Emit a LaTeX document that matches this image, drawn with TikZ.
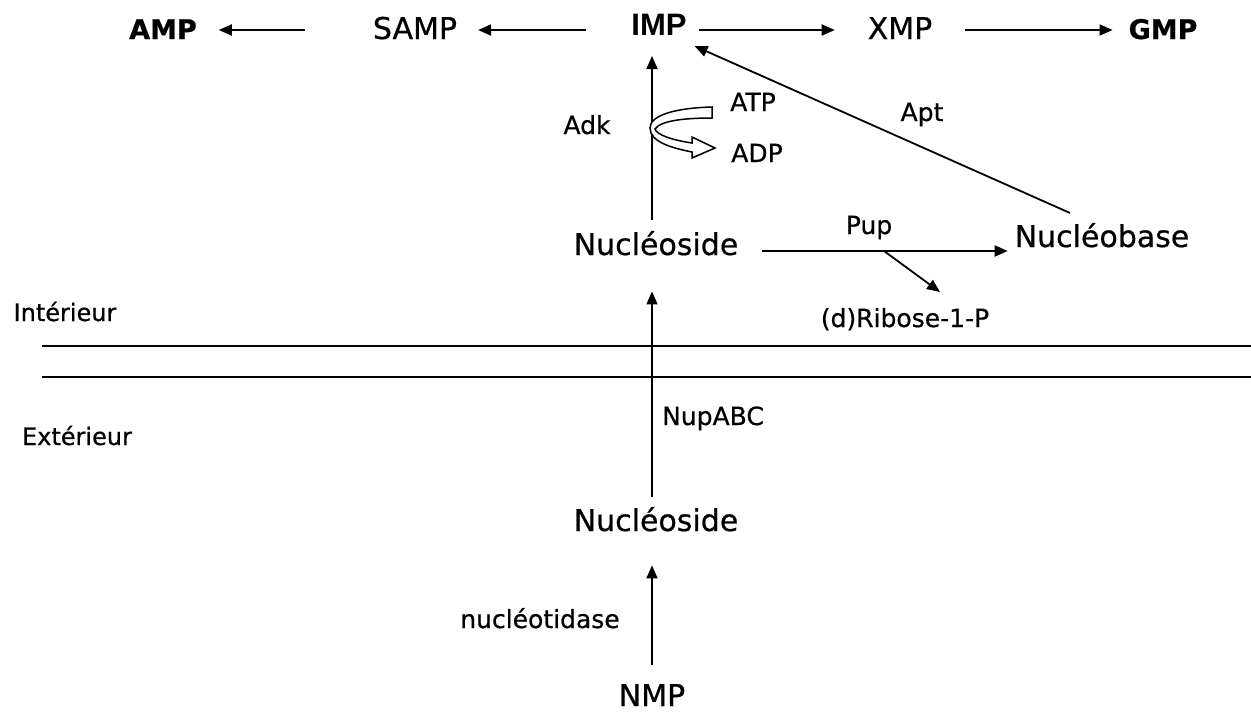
\documentclass[tikz,border=0pt]{standalone}
\usepackage{fontspec}
\setmainfont{DejaVu Sans}[FakeBold=0.6]
\newfontfamily\impfont{Liberation Sans}
\usetikzlibrary{arrows.meta}
\begin{document}
\begin{tikzpicture}[x=1pt,y=-1pt,
  txt/.style={anchor=base,inner sep=0pt,outer sep=0pt},
  big/.style={txt,font=\fontsize{30}{36}\selectfont},
  lab/.style={txt,font=\fontsize{25}{30}\selectfont},
  side/.style={txt,font=\fontsize{24}{28}\selectfont},
  bold/.style={txt,font=\fontsize{27}{32}\selectfont\bfseries},
  arr/.style={line width=1.8pt,-{Triangle[length=13pt,width=11pt]}},
  membrane/.style={line width=2.3pt},
  fatarrow/.style={line width=1.5pt,fill=white,line join=miter}
]
\useasboundingbox (0,0) rectangle (1251,715);
% nodes
\node[bold] (amp) at (163,39) {AMP};
\node[big] (samp) at (415,39) {SAMP};
\node[txt,font=\fontsize{31}{36}\selectfont\impfont\bfseries] (imp) at (659,35) {IMP};
\node[big] (xmp) at (900,39) {XMP};
\node[bold] (gmp) at (1163,39) {GMP};
\node[lab] (adk) at (587,134) {Adk};
\node[lab] (atp) at (753,111) {ATP};
\node[lab] (adp) at (757,162) {ADP};
\node[lab] (apt) at (922,121) {Apt};
\node[big] (nucin) at (656,255) {Nucléoside};
\node[big] (nucbase) at (1102,247) {Nucléobase};
\node[lab] (pup) at (869,234) {Pup};
\node[lab] (ribose) at (905,327) {(d)Ribose-1-P};
\node[side] (int) at (65,321) {Intérieur};
\node[side] (ext) at (77,445) {Extérieur};
\node[lab] (nupabc) at (713,425) {NupABC};
\node[big] (nucout) at (656,531) {Nucléoside};
\node[lab] (nucleotidase) at (540,628) {nucléotidase};
\node[big] (nmp) at (652,706) {NMP};
% helper coordinates
\coordinate (row1) at (0,30);
\coordinate (row2) at (0,251);
\coordinate (vax) at (652,0);
\coordinate (pb) at (884,251);
% top row
\draw[arr,shorten <=68pt,shorten >=22pt] (samp.west |- row1) -- (amp.east |- row1);
\draw[arr,shorten <=45pt,shorten >=21pt] (imp.west |- row1) -- (samp.east |- row1);
\draw[arr,shorten <=12pt,shorten >=33pt] (imp.east |- row1) -- (xmp.west |- row1);
\draw[arr,shorten <=33pt,shorten >=16pt] (xmp.east |- row1) -- (gmp.west |- row1);
% vertical axis
\draw[arr,shorten <=11pt,shorten >=21pt] (nucin.north -| vax) -- (imp.south -| vax);
\draw[arr,shorten <=10pt,shorten >=36pt] (nucout.north -| vax) -- (nucin.south -| vax);
\draw[arr,shorten <=19pt,shorten >=34pt] (nmp.north -| vax) -- (nucout.south -| vax);
% Pup
\draw[arr,shorten <=24pt,shorten >=7pt] (nucin.east |- row2) -- (nucbase.west |- row2);
\draw[arr] (pb) -- ([shift={(35,-16)}]ribose.north);
% Apt
\draw[arr] ([shift={(-32,-10)}]nucbase.north) -- ([shift={(8,11)}]imp.south east);
% membrane
\draw[membrane] (42,346) -- (1251,346);
\draw[membrane] (42,377) -- (1251,377);
% ATP -> ADP open arrow
\draw[fatarrow] (712,107) .. controls (676,108) and (650,115) .. (650,128)
  .. controls (650,142) and (672,148) .. (692,152)
  -- (692,158) -- (715,148) -- (692,137) -- (692,143)
  .. controls (672,140) and (657,135) .. (655,129)
  .. controls (660,121) and (683,118) .. (712,118) -- cycle;
\end{tikzpicture}
\end{document}
